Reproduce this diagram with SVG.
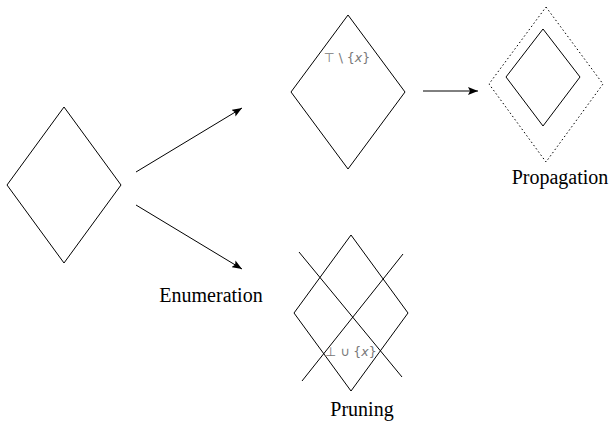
<svg xmlns="http://www.w3.org/2000/svg" width="610" height="429" viewBox="0 0 610 429">
  <style>
    .shape { fill: none; stroke: #000; stroke-width: 1; }
    .dotted { fill: none; stroke: #000; stroke-width: 1; stroke-dasharray: 1.5 2.5; }
    .edge { fill: none; stroke: #000; stroke-width: 1; }
    .label { font-family: "Liberation Serif", "Times New Roman", serif; font-size: 20px; fill: #000; }
    .math { font-family: "DejaVu Sans", "Liberation Sans", sans-serif; font-size: 12.5px; fill: #777; }
  </style>
  <defs>
    <marker id="arrow" viewBox="0 0 10 8" refX="10" refY="4" markerWidth="10" markerHeight="8" markerUnits="userSpaceOnUse" orient="auto">
      <path d="M0,0 L10,4 L0,8 L2,4 Z" fill="#000"/>
    </marker>
  </defs>
  <rect width="610" height="429" fill="#fff"/>

  <!-- initial lattice -->
  <g id="start">
    <polygon class="shape" points="64,107 121,185 64,263 7,185"/>
  </g>

  <!-- lattice after removing x from the top -->
  <g id="top-minus-x">
    <polygon class="shape" points="348,15 405,92 348,169 291,92"/>
    <text class="math" x="347" y="62" text-anchor="middle">⊤ \ {<tspan font-style="italic">x</tspan>}</text>
  </g>

  <!-- propagated lattice inside the original bounds -->
  <g id="propagation">
    <polygon class="dotted" points="546,7 603,84 546,162 489,84"/>
    <polygon class="shape" points="543,29 580,77 543,126 506,77"/>
    <text class="label" x="560" y="184" text-anchor="middle">Propagation</text>
  </g>

  <!-- pruned lattice -->
  <g id="pruning">
    <polygon class="shape" points="351,235 408,313 351,391 294,313"/>
    <line class="shape" x1="299" y1="252" x2="402" y2="377"/>
    <line class="shape" x1="403" y1="254" x2="302" y2="381"/>
    <text class="math" x="351" y="356" text-anchor="middle">⊥ ∪ {<tspan font-style="italic">x</tspan>}</text>
    <text class="label" x="362" y="416" text-anchor="middle">Pruning</text>
  </g>

  <g id="enumeration-label">
    <text class="label" x="211" y="302" text-anchor="middle">Enumeration</text>
  </g>

  <!-- connectors -->
  <g id="connectors">
    <line class="edge" x1="136" y1="172" x2="242" y2="108" marker-end="url(#arrow)"/>
    <line class="edge" x1="136" y1="205" x2="242" y2="269" marker-end="url(#arrow)"/>
    <line class="edge" x1="423" y1="91" x2="478" y2="91" marker-end="url(#arrow)"/>
  </g>
</svg>
